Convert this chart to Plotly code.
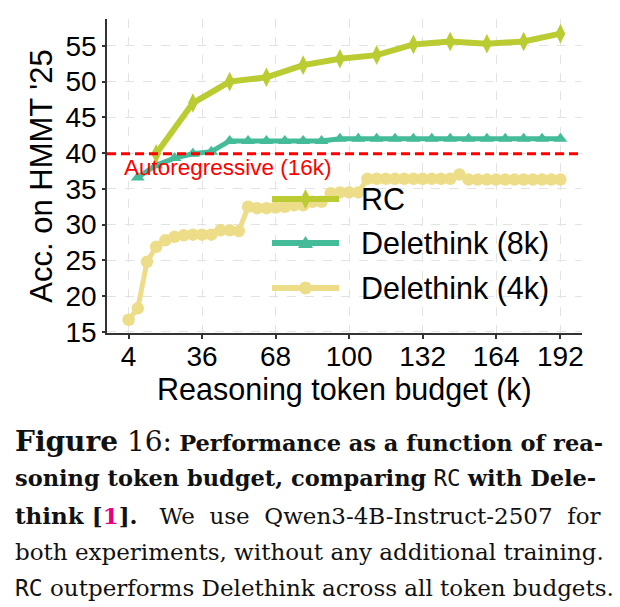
import plotly.graph_objects as go

# ---------------- data ----------------
rc_budget = [16, 32, 48, 64, 80, 96, 112, 128, 144, 160, 176, 192]
rc_acc = [39.9, 47.0, 50.0, 50.6, 52.3, 53.2, 53.7, 55.2, 55.6, 55.3, 55.6, 56.7]

d8_budget = [8, 16, 24, 32, 40, 48, 56, 64, 72, 80, 88, 96, 104, 112, 120, 128,
             136, 144, 152, 160, 168, 176, 184, 192]
d8_acc = [36.6, 38.3, 39.3, 39.9, 40.2, 41.7, 41.7, 41.7, 41.7, 41.7, 41.7, 42.0,
          42.0, 42.0, 42.0, 42.0, 42.0, 42.0, 42.0, 42.0, 42.0, 42.0, 42.0, 42.0]

d4_budget = [4, 8, 12, 16, 20, 24, 28, 32, 36, 40, 44, 48, 52, 56, 60, 64, 68, 72,
             76, 80, 84, 88, 92, 96, 100, 104, 108, 112, 116, 120, 124, 128, 132,
             136, 140, 144, 148, 152, 156, 160, 164, 168, 172, 176, 180, 184, 188, 192]
d4_acc = [16.7, 18.3, 24.8, 26.9, 27.8, 28.3, 28.5, 28.6, 28.6, 28.6, 29.2, 29.2,
          29.1, 32.5, 32.3, 32.3, 32.4, 32.5, 32.7, 32.7, 33.2, 33.2, 34.4, 34.5,
          34.5, 34.5, 36.4, 36.4, 36.4, 36.4, 36.4, 36.4, 36.4, 36.4, 36.4, 36.4,
          37.0, 36.3, 36.3, 36.3, 36.3, 36.3, 36.3, 36.3, 36.3, 36.3, 36.3, 36.3]

autoregressive_acc = 39.9
autoregressive_label = "Autoregressive (16k)"

x_ticks = [4, 36, 68, 100, 132, 164, 192]
y_ticks = [15, 20, 25, 30, 35, 40, 45, 50, 55]

series_names = ["RC", "Delethink (8k)", "Delethink (4k)"]
series_colors = ["#BBCC33", "#44BB99", "#EEDD88"]

x_title = "Reasoning token budget (k)"
y_title = "Acc. on HMMT '25"

# ---------------- layout constants (pixels) ----------------
W, H = 620, 607
L, R, T, B = 107, 582, 19, 333
PW, PH = R - L, B - T


def px_x(px):
    return (px - L) / PW


def px_y(py):
    return (B - py) / PH


SANS = "Liberation Sans, Arial, sans-serif"
SERIF = "DejaVu Serif, serif"
MONO = "DejaVu Sans Mono, monospace"

fig = go.Figure()

fig.add_trace(go.Scatter(
    x=d4_budget, y=d4_acc, mode="lines+markers", name=series_names[2],
    line=dict(color=series_colors[2], width=5),
    marker=dict(symbol="circle", size=12.5, color=series_colors[2], line=dict(width=0)),
    showlegend=False))
fig.add_trace(go.Scatter(
    x=d8_budget, y=d8_acc, mode="lines+markers", name=series_names[1],
    line=dict(color=series_colors[1], width=5),
    marker=dict(symbol="triangle-up", size=12, color=series_colors[1], line=dict(width=0)),
    showlegend=False))
fig.add_trace(go.Scatter(
    x=rc_budget, y=rc_acc, mode="lines+markers", name=series_names[0],
    line=dict(color=series_colors[0], width=6),
    marker=dict(symbol="diamond-tall", size=14, color=series_colors[0], line=dict(width=0)),
    showlegend=False))

shapes = []
# autoregressive baseline
shapes.append(dict(type="line", xref="paper", yref="y", x0=0, x1=1,
                   y0=autoregressive_acc, y1=autoregressive_acc,
                   line=dict(color="#FF0000", width=3, dash="9px,5px"), layer="above"))

annotations = []
annotations.append(dict(text=autoregressive_label, xref="x", yref="y",
                        x=1.2, y=autoregressive_acc, xanchor="left", yanchor="top",
                        yshift=1, showarrow=False,
                        font=dict(family=SANS, size=22.5, color="#FF0000")))

# ---------------- custom legend ----------------
leg_y = [199, 243, 288]
leg_cx = 305.5
marker_paths = [
    "M0,10 L5,0 L0,-10 L-5,0 Z",
    "M0,7 L7.5,-5 L-7.5,-5 Z",
    None,
]
for i in range(3):
    cy = px_y(leg_y[i])
    cx = px_x(leg_cx)
    shapes.append(dict(type="line", xref="paper", yref="paper",
                       xsizemode="pixel", ysizemode="pixel", xanchor=cx, yanchor=cy,
                       x0=-33.5, x1=33.5, y0=0, y1=0,
                       line=dict(color=series_colors[i], width=6), layer="above"))
    if marker_paths[i] is not None:
        shapes.append(dict(type="path", xref="paper", yref="paper",
                           xsizemode="pixel", ysizemode="pixel", xanchor=cx, yanchor=cy,
                           path=marker_paths[i], fillcolor=series_colors[i],
                           line=dict(width=0), layer="above"))
    else:
        shapes.append(dict(type="circle", xref="paper", yref="paper",
                           xsizemode="pixel", ysizemode="pixel", xanchor=cx, yanchor=cy,
                           x0=-6.5, x1=6.5, y0=-6.5, y1=6.5, fillcolor=series_colors[i],
                           line=dict(width=0), layer="above"))
    annotations.append(dict(text=series_names[i], xref="paper", yref="paper",
                            x=px_x(359), y=cy, xanchor="left", yanchor="middle",
                            showarrow=False,
                            font=dict(family=SANS, size=30.5, color="#000000")))

# x-axis title
annotations.append(dict(text=x_title, xref="paper", yref="paper",
                        x=0.5, y=px_y(389), xanchor="center", yanchor="middle",
                        showarrow=False, borderpad=0,
                        font=dict(family=SANS, size=30.5, color="#000000")))

# ---------------- caption ----------------
mono_rc = '<span style="font-family:DejaVu Sans Mono, monospace">RC</span>'
caption_lines = [
    '<b><span style="font-size:28px">Figure</span></b><span style="font-size:28px"> 16:</span> '
    '<b>Performance as a function of rea-</b>',
    '<b>soning token budget, comparing</b> ' + mono_rc + ' <b>with Dele-</b>',
    '<b>think [<span style="color:#E5007D">1</span>].</b>&nbsp;&nbsp; We&nbsp; use&nbsp; '
    'Qwen3-4B-Instruct-2507&nbsp; for',
    'both experiments, without any additional training.',
    mono_rc + ' outperforms Delethink across all token budgets.',
]
caption_sizes = [22.5, 22.5, 23, 23, 23]
caption_y = [441, 478, 515, 552, 588]
for txt, py, fs in zip(caption_lines, caption_y, caption_sizes):
    annotations.append(dict(text=txt, xref="paper", yref="paper",
                            x=px_x(13), y=px_y(py), xanchor="left", yanchor="middle",
                            showarrow=False, align="left",
                            font=dict(family=SERIF, size=fs, color="#111111")))

fig.update_layout(
    width=W, height=H,
    margin=dict(l=L, r=W - R, t=T, b=H - B, pad=0),
    paper_bgcolor="white", plot_bgcolor="white",
    showlegend=False,
    shapes=shapes, annotations=annotations,
    xaxis=dict(range=[-5.4, 201.4], tickmode="array", tickvals=x_ticks,
               ticktext=[str(v) for v in x_ticks],
               showline=True, linecolor="#333333", linewidth=1.5,
               ticks="outside", ticklen=4, tickwidth=1.5, tickcolor="#333333",
               ticklabelstandoff=-6,
               showgrid=True, gridcolor="#E3E3E3", gridwidth=1, griddash="dash",
               zeroline=False,
               tickfont=dict(family=SANS, size=28, color="#000000")),
    yaxis=dict(range=[14.85, 58.75], tickmode="array", tickvals=y_ticks,
               ticktext=[str(v) for v in y_ticks],
               showline=True, linecolor="#333333", linewidth=1.5,
               ticks="outside", ticklen=3, tickwidth=1.5, tickcolor="#333333",
               showgrid=True, gridcolor="#E3E3E3", gridwidth=1, griddash="dash",
               zeroline=False,
               tickfont=dict(family=SANS, size=28, color="#000000"),
               title=dict(text=y_title, standoff=4,
                          font=dict(family=SANS, size=31, color="#000000"))),
)

fig.write_html("out.html")
